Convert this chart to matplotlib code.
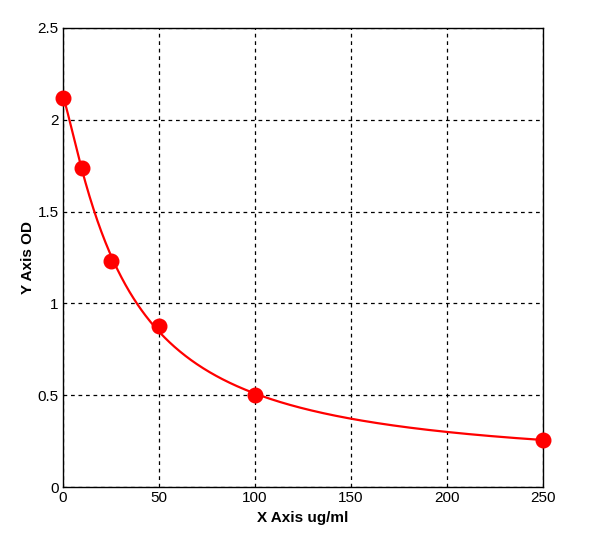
import numpy as np
import matplotlib
matplotlib.use('Agg')
import matplotlib.pyplot as plt

plt.rcParams['font.family'] = ['Liberation Sans', 'DejaVu Sans']

# Standard curve points
conc = [0, 10, 25, 50, 100, 250]
od = [2.12, 1.74, 1.23, 0.875, 0.50, 0.255]

x_ticks = [0, 50, 100, 150, 200, 250]
y_ticks = [0, 0.5, 1, 1.5, 2, 2.5]
y_labels = ['0', '0.5', '1', '1.5', '2', '2.5']

# Four-parameter logistic fit: grid over (b, c), linear solve for (a, d)
x = np.asarray(conc, float)
y = np.asarray(od, float)
best = None
for b in np.linspace(0.5, 2.5, 201):
    for c in np.linspace(5, 200, 391):
        g = 1.0 / (1.0 + (x / c) ** b)
        A = np.column_stack([g, 1 - g])
        coef, *_ = np.linalg.lstsq(A, y, rcond=None)
        err = np.sum((A @ coef - y) ** 2)
        if best is None or err < best[0]:
            best = (err, b, c, coef)
_, b, c, (a, d) = best

xs = np.linspace(0, 250, 600)
ys = d + (a - d) / (1.0 + (xs / c) ** b)

fig = plt.figure(figsize=(6, 5.37), dpi=100)
ax = fig.add_axes([0.105, 0.093, 0.8, 0.855])

ax.plot(xs, ys, color='red', linewidth=1.6, zorder=3)
ax.plot(conc, od, 'o', color='red', markersize=10.5, zorder=4, clip_on=False)

ax.set_xlim(0, 250)
ax.set_ylim(0, 2.5)
ax.set_xticks(x_ticks)
ax.set_yticks(y_ticks)
ax.set_yticklabels(y_labels)
ax.tick_params(length=0, labelsize=11, pad=3)
ax.grid(True, color='black', linestyle=(0, (3, 3)), linewidth=0.9)
for s in ax.spines.values():
    s.set_linewidth(1.0)

ax.set_xlabel('X Axis ug/ml', fontsize=11, fontweight='bold', labelpad=4)
ax.set_ylabel('Y Axis OD', fontsize=11, fontweight='bold', labelpad=2)

fig.savefig('out.png', dpi=100)
